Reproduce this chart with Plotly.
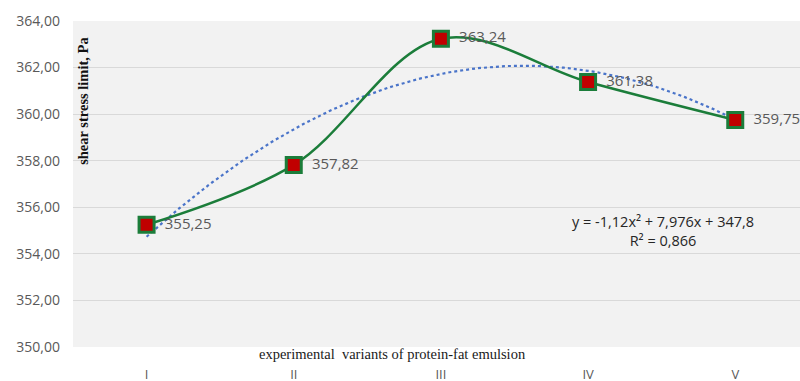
import numpy as np
import plotly.graph_objects as go

# Emulsion variants and measured shear stress limit (Pa)
variants = ["I", "II", "III", "IV", "V"]
stress = [355.25, 357.82, 363.24, 361.38, 359.75]
labels = ["355,25", "357,82", "363,24", "361,38", "359,75"]
y_ticks = [350, 352, 354, 356, 358, 360, 362, 364]

# Second-order polynomial trend over variant number 1..5
xn = np.arange(1, len(stress) + 1)
coef = np.polyfit(xn, stress, 2)
xd = np.linspace(1, len(stress), 200)
yd = np.polyval(coef, xd)

fig = go.Figure()

fig.add_trace(go.Scatter(
    x=xd - 1, y=yd, mode="lines",
    line=dict(color="#4a74c9", width=2.2, dash="dot"),
    hoverinfo="skip", showlegend=False,
))

fig.add_trace(go.Scatter(
    x=list(range(len(variants))), y=stress, mode="lines+markers+text",
    line=dict(color="#1b7d3a", width=2.5, shape="spline", smoothing=1.0),
    marker=dict(symbol="square", size=15, color="#c00000",
                line=dict(color="#1b7d3a", width=3)),
    text=["  " + t for t in labels], textposition="middle right",
    textfont=dict(family="Open Sans, sans-serif", size=15, color="#595959"),
    cliponaxis=False, showlegend=False,
))

fig.update_layout(
    width=800, height=381,
    margin=dict(l=73, r=0, t=21, b=34, autoexpand=False),
    paper_bgcolor="white", plot_bgcolor="#f2f2f2",
    separators=", ",
    xaxis=dict(
        range=[-0.5, 4.44], tickvals=list(range(len(variants))), ticktext=variants,
        showgrid=False, zeroline=False, showline=False, automargin=False,
        ticklabelstandoff=18,
        tickfont=dict(family="Open Sans, sans-serif", size=13, color="#595959"),
    ),
    yaxis=dict(
        range=[350, 364], tickvals=y_ticks, tickformat=".2f",
        showgrid=True, gridcolor="#d9d9d9", gridwidth=1.3, zeroline=False,
        showline=False, ticklabelstandoff=12, automargin=False,
        tickfont=dict(family="Open Sans, sans-serif", size=14, color="#595959"),
    ),
    annotations=[
        dict(text="experimental  variants of protein-fat emulsion",
             xref="paper", yref="paper", x=0.44, y=0, yshift=3,
             xanchor="center", yanchor="top", showarrow=False,
             font=dict(family="Liberation Serif, serif", size=14.5, color="#1a1a1a")),
        dict(text="<b>shear stress limit, Pa</b>", textangle=-90,
             xref="paper", yref="paper", x=0.0, xshift=0, y=0.755,
             xanchor="left", yanchor="middle", showarrow=False,
             font=dict(family="Liberation Serif, serif", size=14.5, color="#111111")),
        dict(text="y = -1,12x² + 7,976x + 347,8<br>R² = 0,866",
             xref="paper", yref="paper", x=0.812, y=0.356,
             xanchor="center", yanchor="middle", showarrow=False, align="center",
             font=dict(family="Open Sans, sans-serif", size=14.5, color="#262626")),
    ],
)

fig.write_html("out.html")
